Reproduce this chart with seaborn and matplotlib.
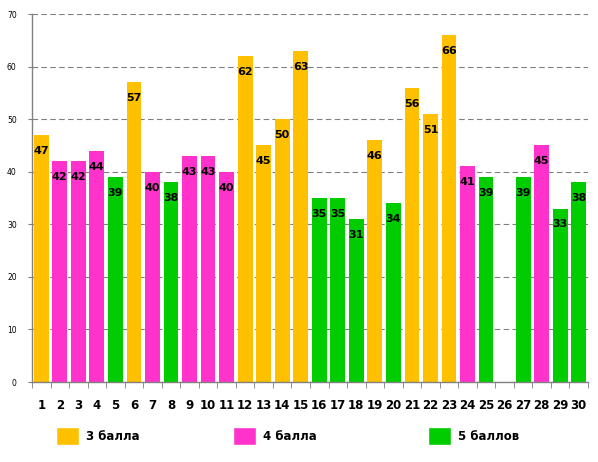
import numpy as np
import pandas as pd
import matplotlib
matplotlib.use("Agg")
import matplotlib.pyplot as plt
import seaborn as sns
from matplotlib.patches import Patch

categories = [str(i) for i in range(1, 31)]
values = [47, 42, 42, 44, 39, 57, 40, 38, 43, 43, 40, 62, 45, 50, 63,
          35, 35, 31, 46, 34, 56, 51, 66, 41, 39, np.nan, 39, 45, 33, 38]
grades = ["3 балла", "4 балла", "4 балла", "4 балла", "5 баллов", "3 балла",
          "4 балла", "5 баллов", "4 балла", "4 балла", "4 балла", "3 балла",
          "3 балла", "3 балла", "3 балла", "5 баллов", "5 баллов", "5 баллов",
          "3 балла", "5 баллов", "3 балла", "3 балла", "3 балла", "4 балла",
          "5 баллов", "5 баллов", "5 баллов", "4 балла", "5 баллов", "5 баллов"]
legend_labels = ["3 балла", "4 балла", "5 баллов"]
colors = {"3 балла": "#FFC000", "4 балла": "#FF33CC", "5 баллов": "#00CC00"}

df = pd.DataFrame({"cat": categories, "val": values, "grade": grades})

sns.set_style("white")
plt.rcParams['font.family'] = ['DejaVu Sans']
plt.rcParams['text.color'] = 'black'
plt.rcParams['xtick.color'] = 'black'
plt.rcParams['ytick.color'] = 'black'

fig = plt.figure(figsize=(5.98, 4.62), dpi=100)
ax = fig.add_axes([32/598, 1-382/462, (588-32)/598, (382-14)/462])

sns.barplot(data=df, x="cat", y="val", hue="grade", order=categories,
            hue_order=legend_labels, palette=colors, dodge=False, width=0.8,
            saturation=1, legend=False, linewidth=0, ax=ax)

for i, v in enumerate(values):
    if not np.isnan(v):
        ax.annotate(f"{int(v)}", (i, v), xytext=(0, -11.5), textcoords="offset points",
                    ha="center", va="center", fontsize=8, fontweight="bold", color="black")

ax.set_ylim(0, 70)
ax.set_xlim(-0.5, 29.5)
ax.set_yticks(range(0, 71, 10))
ax.yaxis.grid(True, linestyle=(0, (5, 3)), color="#808080", linewidth=0.8)
ax.set_axisbelow(True)
ax.tick_params(axis="y", labelsize=5.5, length=3, color="#808080", labelcolor="black", left=True, pad=8)
ax.tick_params(axis="x", which="major", length=0, labelsize=8.5, labelcolor="black", pad=12)
for lab in ax.get_xticklabels():
    lab.set_fontweight("bold")
ax.set_xticks(np.arange(-0.5, 30, 1), minor=True)
ax.tick_params(axis="x", which="minor", length=4, color="#808080", bottom=True)
ax.set_xlabel("")
ax.set_ylabel("")
for s in ["top", "right"]:
    ax.spines[s].set_visible(False)
for s in ["left", "bottom"]:
    ax.spines[s].set_color("#808080")
    ax.spines[s].set_linewidth(1)

legend_x = [45, 222, 417]
for lab, lx in zip(legend_labels, legend_x):
    leg = fig.legend(handles=[Patch(facecolor=colors[lab], label=lab)],
                     loc="center left", bbox_to_anchor=(lx/598, 1-436/462),
                     frameon=False, handlelength=2.0, handleheight=2.0,
                     handletextpad=0.6, prop={"size": 8.5, "weight": "bold"})
    for t in leg.get_texts():
        t.set_color("black")

fig.savefig("out.png", dpi=100)
